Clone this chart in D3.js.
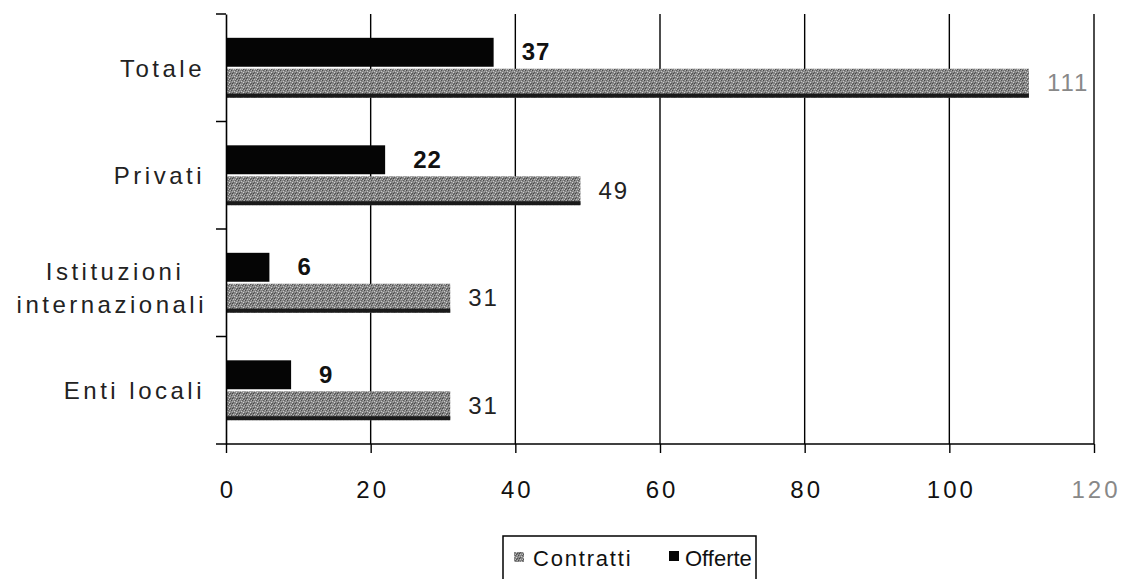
<!DOCTYPE html>
<html><head><meta charset="utf-8">
<script src="https://cdn.jsdelivr.net/npm/d3@7"></script>
<style>body{margin:0;background:#fff}svg{display:block}text{font-family:"Liberation Sans",Arial,sans-serif}</style>
</head><body><svg id="c" width="1126" height="579"></svg>
<script>
const categories = ["Totale", "Privati", "Istituzioni internazionali", "Enti locali"];
const offerte = [37, 22, 6, 9];
const contratti = [111, 49, 31, 31];
const xTicks = [0, 20, 40, 60, 80, 100, 120];
const seriesNames = ["Contratti", "Offerte"];

const svg = d3.select("#c");
const defs = svg.append("defs");
const pat = defs.append("pattern").attr("id","tex").attr("patternUnits","userSpaceOnUse").attr("width",7).attr("height",5);
pat.append("rect").attr("width",7).attr("height",5).attr("fill","#858585");
[[0,0,"#4a4a4a"],[3,1,"#c8c8c8"],[1,3,"#444"],[4,4,"#bdbdbd"],[2,2,"#5a5a5a"],[5,2,"#d2d2d2"],[6,0,"#b0b0b0"],[5,4,"#505050"],[1,1,"#aaa"],[6,3,"#555"],[2,4,"#c0c0c0"],[4,0,"#606060"]].forEach(d=>{
  pat.append("rect").attr("x",d[0]).attr("y",d[1]).attr("width",1).attr("height",1).attr("fill",d[2]);
});

const x = d3.scaleLinear().domain([0,120]).range([226,1094]);
const y = d3.scaleBand().domain(categories).range([14,444]);
const inner = d3.scaleBand().domain(["Offerte","Contratti"]).range([0,y.bandwidth()]).paddingInner(0.065).paddingOuter(0.77);

// gridlines
svg.append("g").selectAll("line").data(xTicks.slice(1)).join("line")
  .attr("x1",d=>x(d)).attr("x2",d=>x(d)).attr("y1",14).attr("y2",444)
  .attr("stroke","#000").attr("stroke-width",1.4);

// bars
const g = svg.append("g");
categories.forEach((c,i)=>{
  const yo = y(c)+inner("Offerte"), yc = y(c)+inner("Contratti"), h = inner.bandwidth();
  g.append("rect").attr("x",x(0)).attr("y",yo).attr("width",x(offerte[i])-x(0)).attr("height",h).attr("fill","#050505");
  g.append("rect").attr("x",x(0)).attr("y",yc).attr("width",x(contratti[i])-x(0)).attr("height",h).attr("fill","url(#tex)");
  g.append("rect").attr("x",x(0)).attr("y",yc+h-4).attr("width",x(contratti[i])-x(0)).attr("height",4).attr("fill","#1a1a1a");
  g.append("text").attr("x",x(offerte[i])+28).attr("y",yo+h/2+8)
    .attr("font-size",24).attr("font-weight","bold").attr("letter-spacing","1px").attr("fill","#111").text(offerte[i]);
  g.append("text").attr("x",x(contratti[i])+18).attr("y",yc+h/2+8)
    .attr("font-size",24).attr("letter-spacing","2px").attr("fill", i===0?"#888":"#222").text(contratti[i]);
});

// axes
const yAxis = svg.append("g").attr("transform","translate(226,0)")
  .call(d3.axisLeft(y).tickSize(0).tickFormat(""));
yAxis.select(".domain").attr("stroke","#000").attr("stroke-width",1.6);
svg.append("g").selectAll("line").data(categories).join("line")
  .attr("x1",216).attr("x2",226).attr("y1",d=>y(d)).attr("y2",d=>y(d))
  .attr("stroke","#000").attr("stroke-width",1.5);

const xAxis = svg.append("g").attr("transform","translate(0,444)")
  .call(d3.axisBottom(x).tickValues(xTicks).tickSize(9).tickPadding(28));
xAxis.select(".domain").attr("d","M216,0H1094").attr("stroke","#000").attr("stroke-width",1.6);
xAxis.selectAll(".tick line").attr("stroke","#000").attr("stroke-width",1.4);
xAxis.selectAll(".tick text").attr("font-size",24).attr("font-family","'Liberation Sans',Arial,sans-serif")
  .attr("fill",d=>d===120?"#888":"#111").attr("letter-spacing","3px").attr("dx","1.5px");

// category labels
const labels = svg.append("g").attr("font-size",24).attr("letter-spacing","3.5px").attr("fill","#222");
categories.forEach(c=>{
  const cy = y(c)+y.bandwidth()/2;
  if (c === "Istituzioni internazionali") {
    labels.append("text").attr("x",115).attr("y",cy-3).attr("text-anchor","middle").text("Istituzioni");
    labels.append("text").attr("x",207).attr("y",cy+30).attr("text-anchor","end").text("internazionali");
  } else {
    labels.append("text").attr("x",205).attr("y",cy+9).attr("text-anchor","end").text(c);
  }
});

// legend
const lg = svg.append("g");
lg.append("rect").attr("x",503).attr("y",536).attr("width",253).attr("height",50).attr("fill","#fff").attr("stroke","#000").attr("stroke-width",1.5);
lg.append("rect").attr("x",514).attr("y",552).attr("width",10).attr("height",10).attr("fill","url(#tex)");
lg.append("text").attr("x",533).attr("y",566).attr("font-size",22).attr("letter-spacing","1.8px").attr("fill","#111").text(seriesNames[0]);
lg.append("rect").attr("x",669).attr("y",551).attr("width",10).attr("height",10).attr("fill","#050505");
lg.append("text").attr("x",685).attr("y",566).attr("font-size",22).attr("letter-spacing","0px").attr("fill","#111").text(seriesNames[1]);
</script></body></html>
